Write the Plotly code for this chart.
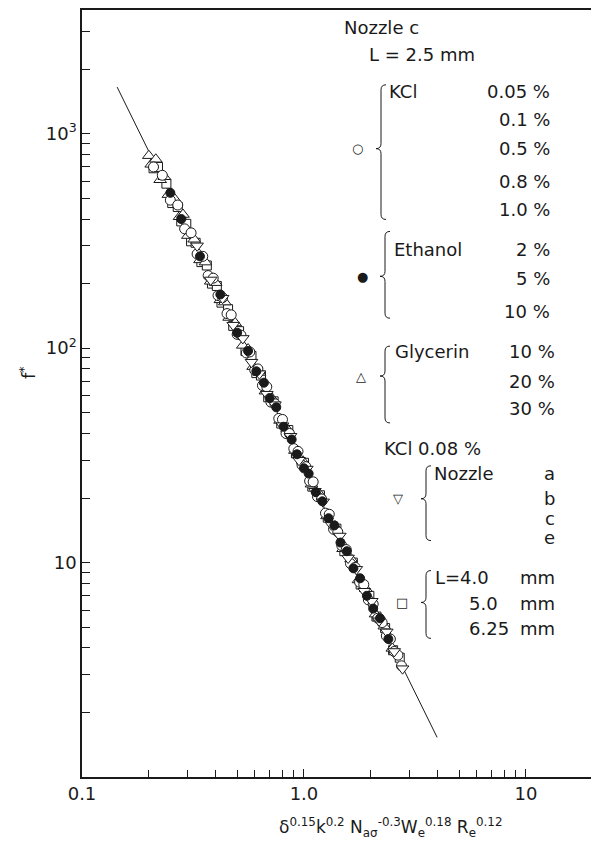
import plotly.graph_objects as go

# correlation line (two end points)
line_x = [0.144, 3.98]
line_y = [1650, 1.53]

# KCl 0.05-1.0 %  (open circles)
kcl_x = [0.21, 0.23, 0.25, 0.27, 0.29, 0.31, 0.33, 0.35, 0.37, 0.39, 0.41, 0.43, 0.45, 0.47,
         0.50, 0.52, 0.55, 0.57, 0.60, 0.62, 0.65, 0.68, 0.71, 0.74, 0.77, 0.80, 0.83, 0.86,
         0.90, 0.94, 0.98, 1.02, 1.06, 1.10, 1.15, 1.20, 1.25, 1.30, 1.36, 1.42, 1.48, 1.55,
         1.62, 1.70, 1.78, 1.86, 1.95, 2.05, 2.15, 2.25, 2.35, 2.45, 2.55, 2.65, 2.75]
kcl_y = [700, 640, 490, 465, 360, 345, 275, 268, 218, 212, 176, 172, 145, 143,
         116, 115, 95, 96, 79, 80, 67, 66, 56, 55, 47, 46.5, 40, 40,
         34, 33, 28.5, 28, 24, 23.8, 20.3, 19.8, 17.0, 16.8, 14.3, 13.9, 12.0, 11.5,
         9.9, 9.5, 8.1, 7.9, 6.7, 6.4, 5.5, 5.25, 4.55, 4.4, 3.85, 3.7, 3.3]

# Ethanol 2-10 %  (filled circles)
eth_x = [0.25, 0.28, 0.34, 0.42, 0.50, 0.56, 0.61, 0.66, 0.70, 0.75, 0.81, 0.88, 0.93, 1.0,
         1.05, 1.13, 1.21, 1.29, 1.37, 1.46, 1.56, 1.67, 1.79, 1.92, 2.05, 2.2, 2.4]
eth_y = [530, 400, 268, 178, 118, 97, 78, 69, 58.5, 53, 43, 37.5, 32, 27.5,
         26, 21.3, 19.3, 16.1, 14.9, 12.4, 11.3, 9.4, 8.45, 7.0, 6.1, 5.5, 4.4]

# Glycerin 10-30 %  (open triangles up)
gly_x = [0.20, 0.205, 0.215, 0.225, 0.235, 0.245, 0.26, 0.275, 0.285, 0.30, 0.32, 0.34,
         0.36, 0.38, 0.40, 0.42, 0.44, 0.46, 0.49, 0.53, 0.56, 0.59, 0.63, 0.67, 0.72,
         0.78, 0.84, 0.91, 0.99, 1.08, 1.17, 1.27, 1.38, 1.50, 1.63, 1.76, 1.90, 2.10,
         2.30, 2.50]
gly_y = [790, 720, 760, 610, 630, 520, 500, 410, 420, 335, 322, 258,
         252, 205, 202, 168, 164, 139, 131, 103, 99, 82, 77, 63, 58,
         46, 42, 33.3, 29.7, 23.2, 21.0, 16.5, 14.8, 11.6, 10.4, 8.3, 7.55, 5.75,
         5.05, 3.98]

# KCl 0.08 %, nozzle a, b, c, e  (open triangles down)
noz_x = [0.33, 0.38, 0.43, 0.48, 0.53, 0.58, 0.63, 0.68, 0.74, 0.80, 0.87, 0.95, 1.03,
         1.12, 1.22, 1.33, 1.45, 1.58, 1.72, 1.87, 2.02, 2.18, 2.36, 2.55, 2.78]
noz_y = [300, 208, 171, 128, 111, 86, 76, 61, 54.5, 43.5, 38.8, 30, 27.3,
         21.5, 19.2, 15.0, 13.3, 10.5, 9.3, 7.35, 6.6, 5.35, 4.75, 3.85, 3.2]

# L = 4.0, 5.0, 6.25 mm  (open squares)
len_x = [0.21, 0.22, 0.24, 0.255, 0.27, 0.28, 0.295, 0.31, 0.325, 0.345, 0.365, 0.385,
         0.405, 0.425, 0.455, 0.48, 0.51, 0.545, 0.58, 0.61, 0.64, 0.69, 0.73, 0.79,
         0.85, 0.92, 1.0, 1.09, 1.18, 1.28, 1.40, 1.52, 1.66, 1.80, 1.97, 2.12, 2.32,
         2.52, 2.70]
len_y = [690, 700, 585, 475, 455, 390, 380, 315, 310, 252, 243, 200,
         195, 163, 152, 127, 120, 97, 92, 76.5, 74.5, 59, 56.5, 44.5,
         41.5, 32.3, 29.2, 22.6, 20.6, 16.2, 14.4, 11.3, 10.0, 7.9, 7.0, 5.6, 4.95,
         3.9, 3.6]

x_ticks = [0.1, 1, 10]
x_ticktext = ['0.1', '1.0', '10']
x_minor = [0.2, 0.3, 0.4, 0.5, 0.6, 0.7, 0.8, 0.9, 2, 3, 4, 5, 6, 7, 8, 9]
y_ticks = [10, 100, 1000]
y_ticktext = ['10', '10<sup>2</sup>', '10<sup>3</sup>']
y_minor = [2, 3, 4, 5, 6, 7, 8, 9, 20, 30, 40, 50, 60, 70, 80, 90,
           200, 300, 400, 500, 600, 700, 800, 900, 2000, 3000]

FONT = 'DejaVu Sans'
INK = '#1a1a1a'

# the page body adds 8px, so the figure is laid out in page pixels minus 8
OFF = 8
L, R, T, B = 74, 585, 0, 769


def px(x):
    return (x - OFF - L) / (R - L)


def py(y):
    return 1 - (y - OFF - T) / (B - T)


fig = go.Figure()

fig.add_trace(go.Scatter(x=line_x, y=line_y, mode='lines',
                         line=dict(color=INK, width=1), showlegend=False))


def add_series(xs, ys, symbol, fill, size):
    fig.add_trace(go.Scatter(
        x=xs, y=ys, mode='markers', showlegend=False,
        marker=dict(symbol=symbol, size=size, color=fill,
                    line=dict(color=INK, width=1))
    ))


add_series(len_x, len_y, 'square', 'white', 9)
add_series(gly_x, gly_y, 'triangle-up', 'white', 11)
add_series(kcl_x, kcl_y, 'circle', 'white', 10)
add_series(noz_x, noz_y, 'triangle-down', 'white', 11)
add_series(eth_x, eth_y, 'circle', INK, 9)


def brace(x, top, mid, bot):
    d = 5
    pts = [
        f"M {px(x + d)},{py(top)}",
        f"Q {px(x)},{py(top)} {px(x)},{py(top + d)}",
        f"L {px(x)},{py(mid - d)}",
        f"Q {px(x)},{py(mid)} {px(x - d)},{py(mid)}",
        f"Q {px(x)},{py(mid)} {px(x)},{py(mid + d)}",
        f"L {px(x)},{py(bot - d)}",
        f"Q {px(x)},{py(bot)} {px(x + d)},{py(bot)}",
    ]
    fig.add_shape(type='path', xref='paper', yref='paper', path=' '.join(pts),
                  line=dict(color=INK, width=1))


brace(381, 83, 147, 218)
brace(385, 230, 275, 317)
brace(385, 345, 375, 422)
brace(426, 465, 498, 540)
brace(426, 570, 602, 638)


def label(text, x, y, anchor='left', size=18, angle=0):
    fig.add_annotation(text=text, x=px(x), y=py(y), xref='paper', yref='paper',
                       xanchor=anchor, yanchor='middle', showarrow=False,
                       textangle=angle,
                       font=dict(family=FONT, size=size, color=INK))


label('Nozzle c', 342, 26)
label('L = 2.5 mm', 367, 53)
label('KCl', 387, 90)
for t, y in [('0.05 %', 90), ('0.1 %', 118), ('0.5 %', 147), ('0.8 %', 180), ('1.0 %', 208)]:
    label(t, 552, y, 'right')
label('Ethanol', 392, 248)
for t, y in [('2 %', 248), ('5 %', 277), ('10 %', 310)]:
    label(t, 552, y, 'right')
label('Glycerin', 393, 350)
for t, y in [('10 %', 350), ('20 %', 380), ('30 %', 408)]:
    label(t, 557, y, 'right')
label('KCl 0.08 %', 382, 448)
label('Nozzle', 432, 473)
for t, y in [('a', 473), ('b', 498), ('c', 518), ('e', 537)]:
    label(t, 557, y, 'right')
label('L=4.0', 433, 577)
label('5.0', 467, 603)
label('6.25', 467, 628)
for y in [577, 603, 628]:
    label('mm', 557, y, 'right')

# legend symbols
for sym, x, y in [('○', 357, 147), ('●', 362, 275), ('△', 361, 375),
                  ('▽', 398, 498), ('□', 402, 602)]:
    label(sym, x, y, 'center', 13)

# axis titles
label('f<sup>*</sup>', 28, 372, 'center', 18, -90)
label('δ<sup>0.15</sup>k<sup>0.2</sup> N<sub>aσ</sub><sup>-0.3</sup>'
      'W<sub>e</sub><sup>0.18</sup> R<sub>e</sub><sup>0.12</sup>', 390, 828, 'center', 17)

axis_common = dict(
    type='log', showline=True, linecolor=INK, linewidth=1.5, mirror=True,
    ticks='inside', ticklen=8, tickcolor=INK, tickwidth=1.2,
    showgrid=False, zeroline=False, tickmode='array',
    tickfont=dict(family=FONT, size=18, color=INK),
)

fig.update_layout(
    width=599, height=847,
    margin=dict(l=L, r=599 - R, t=T, b=847 - B),
    plot_bgcolor='white', paper_bgcolor='white',
    showlegend=False,
    xaxis=dict(axis_common, range=[-1, 1.302], tickvals=x_ticks, ticktext=x_ticktext,
               minor=dict(ticks='inside', ticklen=7, tickcolor=INK, tickwidth=1.2,
                          tickmode='array', tickvals=x_minor)),
    yaxis=dict(axis_common, range=[0, 3.577], tickvals=y_ticks, ticktext=y_ticktext,
               minor=dict(ticks='inside', ticklen=8, tickcolor=INK, tickwidth=1.2,
                          tickmode='array', tickvals=y_minor)),
)

fig.write_html("out.html")
